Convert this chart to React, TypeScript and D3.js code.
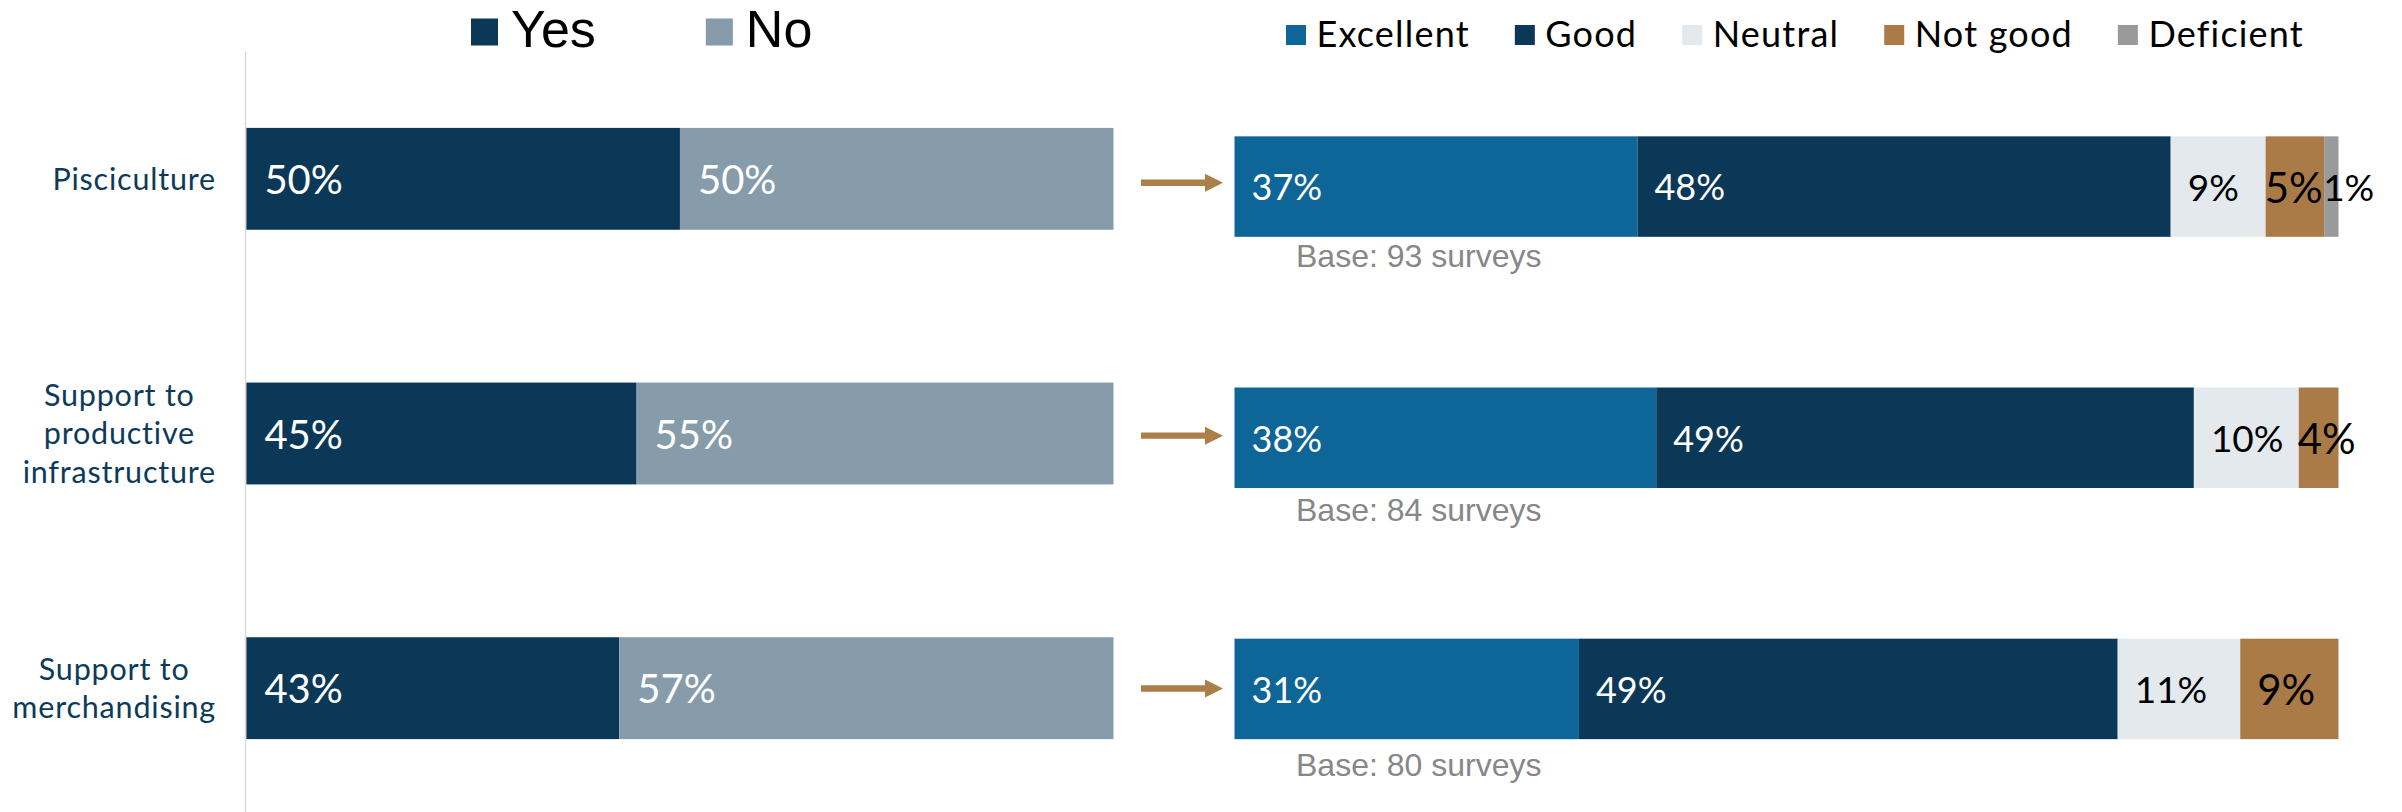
import React, { useEffect, useRef } from "react";
import * as d3 from "d3";

// ---------- data ----------
const categoryLines: string[][] = [
  ["Pisciculture"],
  ["Support to", "productive", "infrastructure"],
  ["Support to", "merchandising"],
];
const yesNoSeries = ["Yes", "No"];
const yesValues = [50, 45, 43];
const noValues = [50, 55, 57];

const ratingSeries = ["Excellent", "Good", "Neutral", "Not good", "Deficient"];
const excellentValues = [36.5, 38.2, 31.2];
const goodValues = [48.3, 48.7, 48.8];
const neutralValues = [8.6, 9.5, 11.1];
const notGoodValues = [5.3, 3.6, 8.9];
const deficientValues = [1.3, 0, 0];
const baseSurveys = [93, 84, 80];

// ---------- styles ----------
const W = 2402;
const H = 812;
const yesNoColors = ["#0c3857", "#869cab"];
const ratingColors = ["#0e6698", "#0c3857", "#e3e9ec", "#aa7b47", "#9a9a9a"];
const ratingTextColors = ["#ffffff", "#ffffff", "#000000", "#000000", "#000000"];
const ratingFontSizes = [36, 36, 37, 42, 37];
const LATO = "Lato, 'Noto Sans', sans-serif";
const ARIAL = "'Liberation Sans', Arial, sans-serif";

export default function App() {
  const ref = useRef<SVGSVGElement | null>(null);

  useEffect(() => {
    const svg = d3.select(ref.current);
    svg.selectAll("*").remove();
    const n = categoryLines.length;
    const idx = d3.range(n);

    // scales
    const yLeft = d3.scaleBand<number>().domain(idx).range([51.5, 815.5]).paddingInner(0.6).paddingOuter(0.3);
    const yRight = d3.scaleBand<number>().domain(idx).range([61, 814.5]).paddingInner(0.6).paddingOuter(0.3);
    const xLeft = d3.scaleLinear().domain([0, 100]).range([246.4, 1113.5]);
    const xRight = d3.scaleLinear().domain([0, 100]).range([1234.5, 2338.5]);

    // left axis line
    svg.append("line")
      .attr("x1", 245.5).attr("x2", 245.5).attr("y1", 51.5).attr("y2", H)
      .attr("stroke", "#d9d9d9").attr("stroke-width", 1.5);

    // left stacked bars
    const leftFs = 40;
    const leftStack = d3.stack<number>().keys(yesNoSeries).value((i, key) => (key === "Yes" ? yesValues[i] : noValues[i]));
    const leftSeries = leftStack(idx);
    leftSeries.forEach((s, si) => {
      const g = svg.append("g");
      g.selectAll("rect").data(s).join("rect")
        .attr("x", (d) => xLeft(d[0]))
        .attr("width", (d) => xLeft(d[1]) - xLeft(d[0]))
        .attr("y", (d) => yLeft(d.data)!)
        .attr("height", yLeft.bandwidth())
        .attr("fill", yesNoColors[si]);
      g.selectAll("text").data(s).join("text")
        .attr("x", (d) => xLeft(d[0]) + 18)
        .attr("y", (d) => yLeft(d.data)! + yLeft.bandwidth() / 2 + 0.358 * leftFs + 1)
        .attr("font-family", LATO).attr("font-size", leftFs)
        .attr("fill", "#ffffff")
        .text((d) => `${Math.round(d[1] - d[0])}%`);
    });

    // category labels
    const lh = 38.3;
    const catFs = 30.5;
    idx.forEach((i) => {
      const lines = categoryLines[i];
      const cy = yLeft(i)! + yLeft.bandwidth() / 2;
      const t = svg.append("text")
        .attr("font-family", LATO).attr("font-size", catFs).attr("fill", "#0d3a5a")
        .attr("letter-spacing", 0.8).attr("text-anchor", "middle");
      const spans = lines.map((ln, li) =>
        t.append("tspan").attr("y", cy - ((lines.length - 1) / 2) * lh + li * lh + 0.358 * catFs).text(ln)
      );
      const maxW = d3.max(spans, (sp) => (sp.node() as SVGTextContentElement).getComputedTextLength()) || 0;
      spans.forEach((sp) => sp.attr("x", 216 - maxW / 2));
    });

    // arrows
    const arrowColor = "#ac7e48";
    idx.forEach((i) => {
      const cy = (yLeft(i)! + yLeft.bandwidth() / 2 + yRight(i)! + yRight.bandwidth() / 2) / 2;
      const x0 = 1141, x1 = 1205, x2 = 1223;
      const path = d3.path();
      path.moveTo(x0, cy - 3.2);
      path.lineTo(x1, cy - 3.2);
      path.lineTo(x1, cy - 9);
      path.lineTo(x2, cy);
      path.lineTo(x1, cy + 9);
      path.lineTo(x1, cy + 3.2);
      path.lineTo(x0, cy + 3.2);
      path.closePath();
      svg.append("path").attr("d", path.toString()).attr("fill", arrowColor);
    });

    // right stacked bars
    const ratingArrays = [excellentValues, goodValues, neutralValues, notGoodValues, deficientValues];
    const rightStack = d3.stack<number>().keys(ratingSeries).value((i, key) => ratingArrays[ratingSeries.indexOf(key)][i]);
    const rightSeries = rightStack(idx);
    rightSeries.forEach((s, si) => {
      svg.append("g").selectAll("rect").data(s.filter((d) => d[1] - d[0] > 0)).join("rect")
        .attr("x", (d) => xRight(d[0]))
        .attr("width", (d) => xRight(d[1]) - xRight(d[0]))
        .attr("y", (d) => yRight(d.data)!)
        .attr("height", yRight.bandwidth())
        .attr("fill", ratingColors[si]);
    });
    rightSeries.forEach((s, si) => {
      const fs = ratingFontSizes[si];
      s.filter((d) => d[1] - d[0] > 0).forEach((d) => {
        const segW = xRight(d[1]) - xRight(d[0]);
        const t = svg.append("text")
          .attr("font-family", LATO).attr("font-size", fs)
          .attr("fill", ratingTextColors[si])
          .attr("y", yRight(d.data)! + yRight.bandwidth() / 2 + 0.358 * fs + 1)
          .text(`${Math.round(d[1] - d[0])}%`);
        const tw = (t.node() as SVGTextContentElement).getComputedTextLength();
        const off = segW >= tw + 17 ? 17 : -1;
        t.attr("x", xRight(d[0]) + off);
      });
    });

    // base notes
    idx.forEach((i) => {
      svg.append("text")
        .attr("x", 1296).attr("y", yLeft(i)! + yLeft.bandwidth() + 37)
        .attr("font-family", ARIAL).attr("font-size", 32).attr("fill", "#878787")
        .text(`Base: ${baseSurveys[i]} surveys`);
    });

    // left legend
    let lx = 471;
    yesNoSeries.forEach((name, i) => {
      svg.append("rect").attr("x", lx).attr("y", 18.5).attr("width", 27).attr("height", 27).attr("fill", yesNoColors[i]);
      const t = svg.append("text").attr("x", lx + 40).attr("y", 46.5)
        .attr("font-family", ARIAL).attr("font-size", 52).attr("fill", "#000").text(name);
      lx += 40 + (t.node() as SVGTextContentElement).getComputedTextLength() + 110;
    });

    // right legend
    let rx = 1286;
    ratingSeries.forEach((name, i) => {
      svg.append("rect").attr("x", rx).attr("y", 25).attr("width", 20).attr("height", 20).attr("fill", ratingColors[i]);
      const t = svg.append("text").attr("x", rx + 30.5).attr("y", 46.5)
        .attr("font-family", LATO).attr("font-size", 36).attr("letter-spacing", 1.2)
        .attr("fill", "#000").text(name);
      rx += 30.5 + (t.node() as SVGTextContentElement).getComputedTextLength() + 45;
    });
  }, []);

  return (
    <svg
      ref={ref}
      width={W}
      height={H}
      style={{ position: "absolute", left: 0, top: 0, background: "#ffffff" }}
    />
  );
}
